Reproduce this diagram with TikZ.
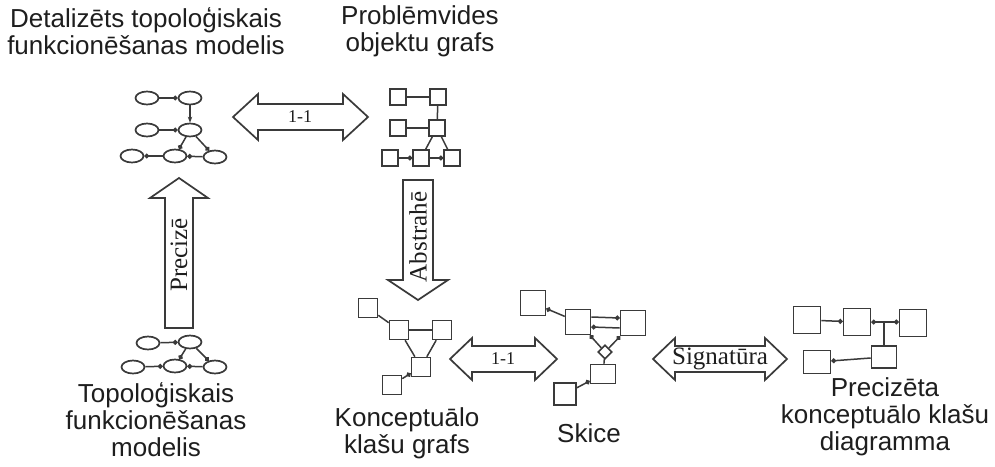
\documentclass[tikz,border=0pt]{standalone}
\usepackage{fontspec}
\setmainfont{Liberation Sans}
\newfontfamily\lblserif{Liberation Serif}
\usetikzlibrary{arrows.meta,shapes.geometric}

\definecolor{ink}{HTML}{3A3A3A}
\definecolor{txt}{HTML}{1E1E1E}

\tikzset{
  caption/.style={align=center, text=txt, font=\fontsize{13}{13.5}\selectfont, inner sep=0pt},
  oval/.style={ellipse, draw=ink, line width=0.85pt, minimum width=11.5pt, minimum height=6.5pt, inner sep=0pt},
  sq/.style={draw=ink, line width=0.8pt, minimum size=#1, inner sep=0pt},
  rectbox/.style 2 args={draw=ink, line width=0.8pt, minimum width=#1, minimum height=#2, inner sep=0pt},
  conn/.style={draw=ink, line width=0.75pt},
  dotend/.style={-{Circle[length=2.4pt]}},
  blk/.style={draw=ink, line width=0.85pt, fill=white, line join=miter},
  tag/.style={text=txt, font=\lblserif\fontsize{12.5}{12.5}\selectfont, inner sep=0pt},
  smalltag/.style={text=txt, font=\lblserif\fontsize{9}{9}\selectfont, inner sep=0pt},
}

% horizontal double block arrow: left tip x, right tip x, y, head length, shaft half-width, head half-width
\newcommand\blockDoubleH[6]{%
  \draw[blk] (#1,#3) -- ({#1+#4},{#3-#6}) -- ({#1+#4},{#3-#5}) -- ({#2-#4},{#3-#5})
    -- ({#2-#4},{#3-#6}) -- (#2,#3) -- ({#2-#4},{#3+#6}) -- ({#2-#4},{#3+#5})
    -- ({#1+#4},{#3+#5}) -- ({#1+#4},{#3+#6}) -- cycle;}

% vertical single block arrow: x, tail y, tip y, head length, shaft half-width, head half-width
\newcommand\blockSingleV[6]{%
  \pgfmathsetmacro\arrHeadBase{#3-sign(#3-#2)*#4}%
  \draw[blk] ({#1-#5},#2) -- ({#1-#5},\arrHeadBase) -- ({#1-#6},\arrHeadBase) -- (#1,#3)
    -- ({#1+#6},\arrHeadBase) -- ({#1+#5},\arrHeadBase) -- ({#1+#5},#2) -- cycle;}

\begin{document}
\begin{tikzpicture}[x=0.5pt, y=-0.5pt]
  \useasboundingbox[fill=white] (0,0) rectangle (995,466);

  % ---------- captions ----------
  \node[caption] (capA) at (146,31) {Detalizēts topoloģiskais\\funkcionēšanas modelis};
  \node[caption] (capB) at (420,31) {Problēmvides\\objektu grafs};
  \node[caption] (capC) at (156,420) {Topoloģiskais\\funkcionēšanas\\modelis};
  \node[caption] (capD) at (407,433) {Konceptuālo\\klašu grafs};
  \node[caption] (capE) at (589,433) {Skice};
  \node[caption] (capF) at (885,417) {Precizēta\\konceptuālo klašu\\diagramma};

  % ---------- block arrows ----------
  \blockDoubleH{233}{368}{117}{25}{13}{23}
  \node[smalltag] (lblTop) at (300,117) {1-1};

  \blockSingleV{179}{328}{178}{20}{14}{29}
  \node[tag, rotate=90] (lblPre) at (179,255) {Precizē};

  \blockSingleV{418}{180}{300}{20}{15}{30}
  \node[tag, rotate=90] (lblAbs) at (418,237) {Abstrahē};

  \blockDoubleH{450}{557}{359}{22}{13}{21}
  \node[smalltag] (lblMid) at (503,359) {1-1};

  \blockDoubleH{653}{787}{359}{22}{13}{21}
  \node[tag] (lblSig) at (720,359) {Signatūra};

  % ---------- detailed topological model ----------
  \node[oval] (t1) at (147,98) {};
  \node[oval] (t2) at (190,98) {};
  \node[oval] (t3) at (147,130) {};
  \node[oval] (t4) at (190,130) {};
  \node[oval] (t5) at (132,156) {};
  \node[oval] (t6) at (175,156) {};
  \node[oval] (t7) at (215,157) {};
  \draw[conn,dotend] (t1) -- (t2);
  \draw[conn,-{Stealth[length=3pt]}] (t2) -- (t4);
  \draw[conn,dotend] (t3) -- (t4);
  \draw[conn,dotend] (t4) -- (t6);
  \draw[conn,dotend] (t4) -- (t7);
  \draw[conn,dotend] (t6) -- (t5);
  \draw[conn,dotend] (t7) -- (t6);

  % ---------- topological model ----------
  \node[oval] (b1) at (148,343) {};
  \node[oval] (b2) at (190,342) {};
  \node[oval] (b3) at (133,367) {};
  \node[oval] (b4) at (175,366) {};
  \node[oval] (b5) at (215,367) {};
  \draw[conn,dotend] (b1) -- (b2);
  \draw[conn,dotend] (b2) -- (b4);
  \draw[conn,dotend] (b2) -- (b5);
  \draw[conn,dotend] (b3) -- (b4);
  \draw[conn,dotend] (b5) -- (b4);

  % ---------- problem domain object graph ----------
  \node[sq=8pt] (r1) at (398,97) {};
  \node[sq=8pt] (r2) at (438,97) {};
  \node[sq=8pt] (r3) at (398,128) {};
  \node[sq=8pt] (r4) at (437,128) {};
  \node[sq=8pt] (r5) at (390,158) {};
  \node[sq=8pt] (r6) at (421,158) {};
  \node[sq=8pt] (r7) at (452,158) {};
  \draw[conn] (r1) -- (r2);
  \draw[conn] (r2) -- (r4);
  \draw[conn] (r3) -- (r4);
  \draw[conn] (r4) -- (r6);
  \draw[conn] (r4) -- (r7);
  \draw[conn,dotend] (r5) -- (r6);
  \draw[conn,dotend] (r6) -- (r7);

  % ---------- conceptual class graph ----------
  \node[sq=9.5pt] (c1) at (368,308) {};
  \node[sq=9.5pt] (c2) at (399,330) {};
  \node[sq=9.5pt] (c3) at (442,330) {};
  \node[sq=9.5pt] (c4) at (421,367) {};
  \node[sq=9.5pt] (c5) at (392,385) {};
  \draw[conn] (c1) -- (c2);
  \draw[conn] (c2) -- (c3);
  \draw[conn] (c2) -- (c4);
  \draw[conn] (c3) -- (c4);
  \draw[conn,dotend] (c5) -- (c4);

  % ---------- sketch ----------
  \node[sq=12.5pt] (k1) at (533,303) {};
  \node[sq=12.5pt] (k2) at (578,322) {};
  \node[sq=12.5pt] (k3) at (633,323) {};
  \node[diamond, draw=ink, line width=0.8pt, minimum size=7pt, inner sep=0pt] (k4) at (605,352) {};
  \node[rectbox={12.5pt}{9.5pt}] (k5) at (603,374) {};
  \node[sq=11pt] (k6) at (565,394) {};
  \draw[conn,dotend] (k2) -- (k1);
  \draw[conn,dotend] ([yshift=2.5pt]k2.east) -- ([yshift=2.5pt]k3.west);
  \draw[conn,dotend] ([yshift=-2.5pt]k3.west) -- ([yshift=-2.5pt]k2.east);
  \draw[conn,dotend] (k4) -- (k2);
  \draw[conn,dotend] (k4) -- (k3);
  \draw[conn] (k4) -- (k5);
  \draw[conn,dotend] (k6) -- (k5);

  % ---------- refined conceptual class diagram ----------
  \node[sq=13.5pt] (p1) at (807,320) {};
  \node[sq=13.5pt] (p2) at (857,322) {};
  \node[sq=13.5pt] (p3) at (913,323) {};
  \node[rectbox={12.5pt}{11pt}] (p4) at (884,357) {};
  \node[rectbox={13.5pt}{11.5pt}] (p5) at (817,362) {};
  \coordinate (jn) at (884,322);
  \draw[conn,dotend] (p1) -- (p2);
  \draw[conn,dotend] (jn) -- (p2.east);
  \draw[conn,dotend] (jn) -- (p3.west |- jn);
  \draw[conn] (jn) -- (p4.north);
  \draw[conn,dotend] (p4) -- (p5);
\end{tikzpicture}
\end{document}
